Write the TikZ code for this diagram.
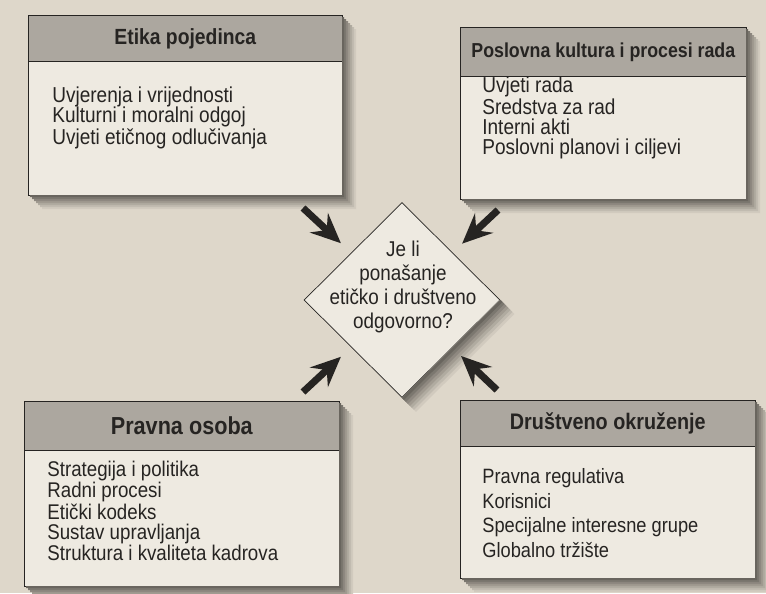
\documentclass[tikz,border=0pt]{standalone}
\usepackage{fontspec}
\setmainfont{Liberation Sans}[FakeStretch=0.88]
\usetikzlibrary{shapes.geometric,arrows.meta}

\definecolor{paper}{RGB}{222,215,202}
\definecolor{boxfill}{RGB}{238,234,225}
\definecolor{headfill}{RGB}{172,167,159}
\definecolor{ink}{RGB}{38,36,34}
\definecolor{shadowdark}{RGB}{92,88,82}

\begin{document}
\begin{tikzpicture}[x=0.02cm,y=-0.02cm,
    head/.style={rectangle,draw=ink,fill=headfill,thin,anchor=north west,inner sep=0pt,text=ink,font=\bfseries\fontsize{12.5}{14}\selectfont},
    body/.style={rectangle,draw=ink,fill=boxfill,thin,anchor=north west,inner sep=0pt},
    items/.style={anchor=west,align=left,inner sep=0pt,text=ink,font=\fontsize{12.3}{11.5}\selectfont},
    question/.style={diamond,draw=ink,fill=boxfill,thin,minimum width=3.92cm,minimum height=3.9cm,inner sep=0pt},
    push/.style={draw=ink,line width=4pt,-{Stealth[length=17pt,width=15pt,inset=6pt]}}
]
    \fill[paper] (0,0) rectangle (766,593);
    \useasboundingbox (0,0) rectangle (766,593);

    % individual ethics
    \node[body,minimum width=6.28cm,minimum height=3.6cm] (etika-box) at (28,15) {};
    \node[head,minimum width=6.28cm,minimum height=0.92cm] (etika) at (28,15) {Etika pojedinca};
    \node[items] (etika-items) at (52,118) {Uvjerenja i vrijednosti\\Kulturni i moralni odgoj\\Uvjeti etičnog odlučivanja};

    % business culture
    \node[body,minimum width=5.72cm,minimum height=3.44cm] (poslovna-box) at (460,27) {};
    \node[head,minimum width=5.72cm,minimum height=0.98cm,font=\bfseries\fontsize{11.5}{13}\selectfont] (poslovna) at (460,27) {Poslovna kultura i procesi rada};
    \node[items,font=\fontsize{12.3}{11.2}\selectfont] (poslovna-items) at (482,118) {Uvjeti rada\\Sredstva za rad\\Interni akti\\Poslovni planovi i ciljevi};

    % legal entity
    \node[body,minimum width=6.3cm,minimum height=3.7cm] (pravna-box) at (24,401) {};
    \node[head,minimum width=6.3cm,minimum height=0.98cm,font=\bfseries\fontsize{14}{16}\selectfont] (pravna) at (24,401) {Pravna osoba};
    \node[items,font=\fontsize{12.1}{11.2}\selectfont] (pravna-items) at (47,511) {Strategija i politika\\Radni procesi\\Etički kodeks\\Sustav upravljanja\\Struktura i kvaliteta kadrova};

    % social environment
    \node[body,minimum width=5.9cm,minimum height=3.56cm] (drustvo-box) at (460,400) {};
    \node[head,minimum width=5.9cm,minimum height=0.92cm,font=\bfseries\fontsize{12.8}{14}\selectfont] (drustvo) at (460,400) {Društveno okruženje};
    \node[items,font=\fontsize{11.8}{14}\selectfont] (drustvo-items) at (482,513) {Pravna regulativa\\Korisnici\\Specijalne interesne grupe\\Globalno tržište};

    % the question
    \node[question] (ethics) at (402,300) {};
    \node[align=center,inner sep=0pt,text=ink,font=\fontsize{12.2}{13.6}\selectfont] (ethics-text) at (403,287) {Je li\\ponašanje\\etičko i društveno\\odgovorno?};

    % soft shadows along the lower right edges
    \foreach \s/\c in {14/10,12/22,10/35,8/48,6/62,4/76,2/90} {
        \foreach \xa/\ya/\xb/\yb in {28/15/342/195,460/27/746/199,24/401/339/586,460/400/755/578}
            \fill[shadowdark!\c!paper] (\xb,\ya+\s) -- (\xb+\s,\ya+\s) -- (\xb+\s,\yb+\s) -- (\xa+\s,\yb+\s) -- (\xa+\s,\yb) -- (\xb,\yb) -- cycle;
        \fill[shadowdark!\c!paper] (ethics.east) -- ([shift={(\s,\s)}]ethics.east) -- ([shift={(\s,\s)}]ethics.south) -- (ethics.south) -- cycle;
    }

    % influences
    \coordinate (from-etika) at (303,208);
    \coordinate (from-poslovna) at (498,210);
    \coordinate (from-pravna) at (303,392);
    \coordinate (from-drustvo) at (497,390);
    \draw[push,shorten >=0.28cm] (from-etika) -- (ethics);
    \draw[push,shorten >=0.26cm] (from-poslovna) -- (ethics);
    \draw[push,shorten >=0.28cm] (from-pravna) -- (ethics);
    \draw[push,shorten >=0.24cm] (from-drustvo) -- (ethics);

\end{tikzpicture}
\end{document}
